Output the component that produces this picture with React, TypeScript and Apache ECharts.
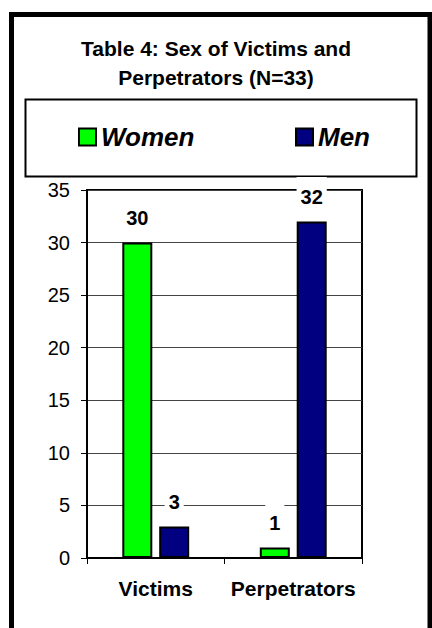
import React, { useEffect, useRef } from "react";
import * as echarts from "echarts";

const categories = ["Victims", "Perpetrators"];
const women = [30, 1];
const men = [3, 32];
const seriesNames = ["Women", "Men"];
const titleLines = ["Table 4: Sex of Victims and", "Perpetrators (N=33)"];

const FONT = '"Liberation Sans", Arial, sans-serif';

export default function App() {
  const ref = useRef<HTMLDivElement>(null);
  useEffect(() => {
    document.body.style.margin = "0";
    const chart = echarts.init(ref.current!, null, { renderer: "svg" });
    const label = {
      show: true,
      position: "top",
      distance: 10.5,
      fontSize: 20,
      fontWeight: "bold",
      fontFamily: FONT,
      color: "#000",
      lineHeight: 24,
      backgroundColor: "#fff",
      padding: [8, 4, 2, 4],
    };
    const legendText = {
      fontSize: 26,
      fontWeight: "bold",
      fontStyle: "italic",
      fontFamily: FONT,
      color: "#000",
    };
    chart.setOption({
      animation: false,
      backgroundColor: "#fff",
      title: {
        text: titleLines.join("\n"),
        left: "center",
        top: 29,
        textStyle: {
          fontSize: 21,
          fontWeight: "bold",
          fontFamily: FONT,
          color: "#000",
          lineHeight: 29,
        },
      },
      graphic: [
        {
          type: "rect",
          shape: { x: 11.5, y: 14.5, width: 418.5, height: 700 },
          style: { fill: "none", stroke: "#000", lineWidth: 5 },
          silent: true,
        },
        {
          type: "rect",
          shape: { x: 25.5, y: 99.5, width: 391, height: 77 },
          style: { fill: "none", stroke: "#000", lineWidth: 2 },
          silent: true,
        },
      ],
      legend: [
        {
          data: [seriesNames[0]],
          left: 73,
          top: 119,
          icon: "rect",
          itemWidth: 17,
          itemHeight: 17,
          itemStyle: { borderColor: "#000", borderWidth: 2 },
          textStyle: legendText,
          selectedMode: false,
        },
        {
          data: [seriesNames[1]],
          left: 290,
          top: 119,
          icon: "rect",
          itemWidth: 17,
          itemHeight: 17,
          itemStyle: { borderColor: "#000", borderWidth: 2 },
          textStyle: legendText,
          selectedMode: false,
        },
      ],
      grid: {
        left: 87,
        right: 70,
        top: 190,
        bottom: 70,
        show: true,
        borderColor: "#000",
        borderWidth: 2,
        backgroundColor: "#fff",
      },
      xAxis: {
        type: "category",
        data: categories,
        axisLine: { show: true, lineStyle: { color: "#000", width: 2 } },
        axisTick: { show: true, length: 6, lineStyle: { color: "#000", width: 1 } },
        axisLabel: {
          interval: 0,
          fontSize: 21,
          fontWeight: "bold",
          fontFamily: FONT,
          color: "#000",
          margin: 20,
        },
      },
      yAxis: {
        type: "value",
        min: 0,
        max: 35,
        interval: 5,
        axisLine: { show: true, lineStyle: { color: "#000", width: 2 } },
        axisTick: { show: true, length: 6, lineStyle: { color: "#000", width: 1 } },
        axisLabel: {
          fontSize: 20,
          fontFamily: FONT,
          color: "#000",
          margin: 17,
        },
        splitLine: { show: true, lineStyle: { color: "#444", width: 1 } },
      },
      series: [
        {
          name: seriesNames[0],
          type: "bar",
          data: women,
          barWidth: 30,
          barGap: "23%",
          itemStyle: { color: "#00ff00", borderColor: "#000", borderWidth: 2 },
          label,
        },
        {
          name: seriesNames[1],
          type: "bar",
          data: men,
          barWidth: 30,
          barGap: "23%",
          itemStyle: { color: "#000080", borderColor: "#000", borderWidth: 2 },
          label,
        },
      ],
    });
    return () => chart.dispose();
  }, []);
  return (
    <div
      ref={ref}
      style={{ position: "fixed", left: 0, top: 0, width: 432, height: 628 }}
    />
  );
}
